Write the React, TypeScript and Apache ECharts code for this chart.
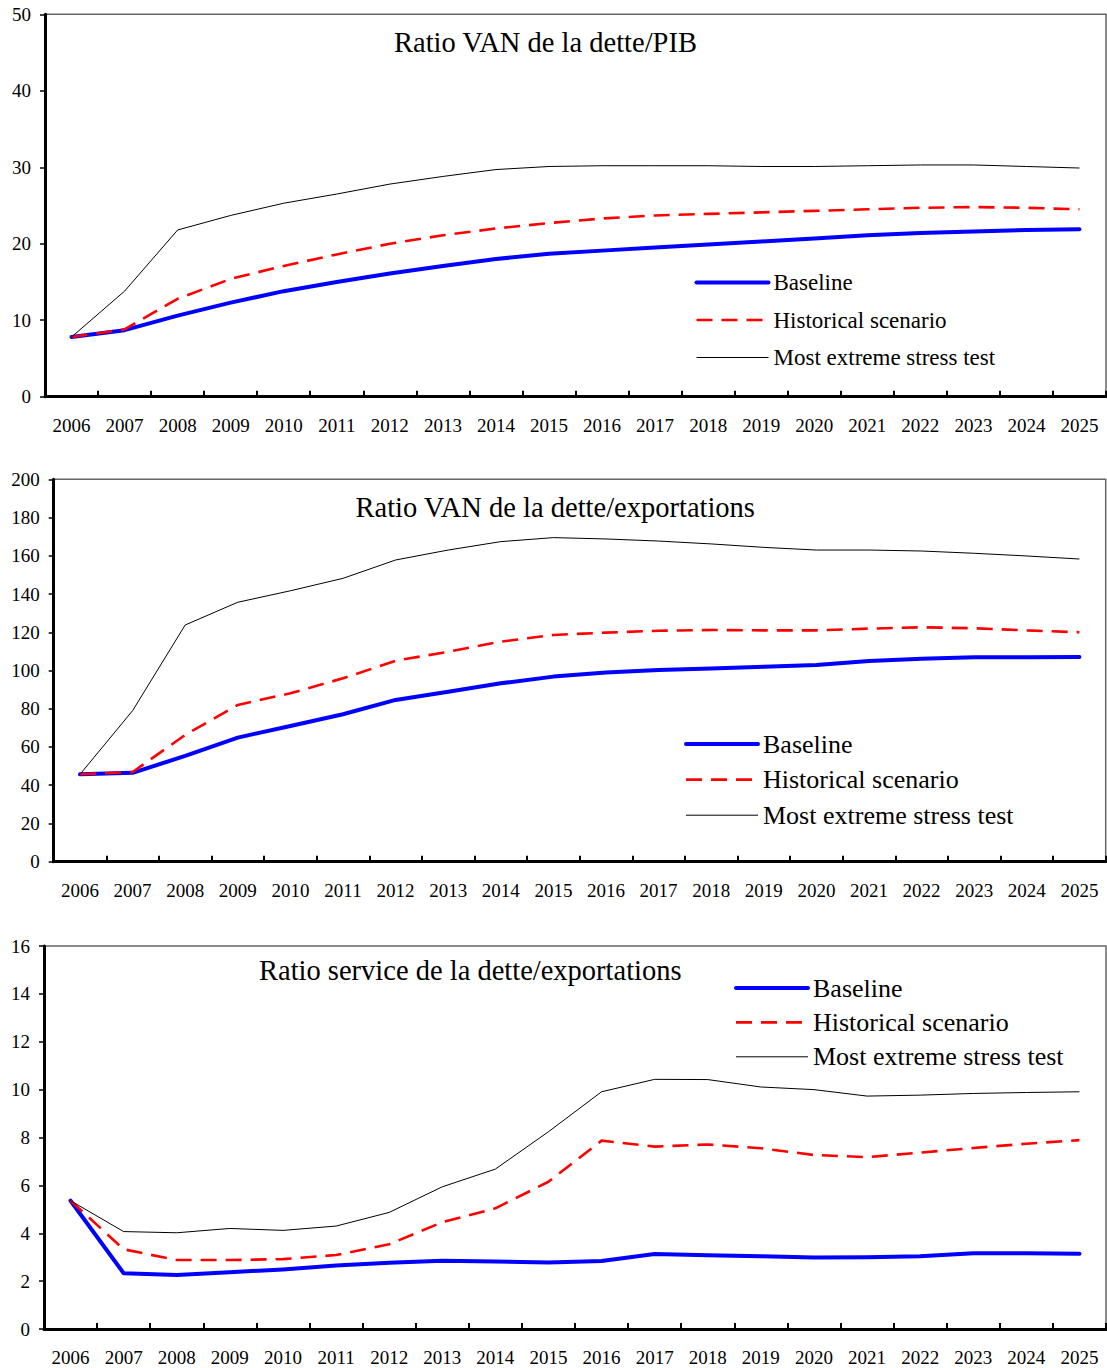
import React, { useEffect, useRef } from "react";
import * as echarts from "echarts";

const years = ["2006","2007","2008","2009","2010","2011","2012","2013","2014","2015","2016","2017","2018","2019","2020","2021","2022","2023","2024","2025"];

const seriesNames = ["Baseline", "Historical scenario", "Most extreme stress test"];

const titles = [
  "Ratio VAN de la dette/PIB",
  "Ratio VAN de la dette/exportations",
  "Ratio service de la dette/exportations",
];

const pibBaseline = [7.8, 8.7, 10.6, 12.3, 13.8, 15.0, 16.1, 17.1, 18.0, 18.7, 19.1, 19.5, 19.9, 20.3, 20.7, 21.1, 21.4, 21.6, 21.8, 21.9];
const pibHistorical = [7.8, 8.8, 12.8, 15.4, 17.1, 18.6, 20.0, 21.1, 22.0, 22.7, 23.3, 23.7, 23.9, 24.1, 24.3, 24.5, 24.7, 24.8, 24.7, 24.5];
const pibExtreme = [7.8, 13.8, 21.8, 23.7, 25.3, 26.5, 27.8, 28.8, 29.7, 30.1, 30.2, 30.2, 30.2, 30.1, 30.1, 30.2, 30.3, 30.3, 30.1, 29.9];

const expBaseline = [45.7, 46.5, 55.3, 64.9, 71.0, 77.1, 84.6, 88.9, 93.3, 96.8, 98.9, 100.3, 101.1, 102.0, 102.9, 105.0, 106.2, 106.9, 106.9, 107.1];
const expHistorical = [45.7, 46.9, 66.3, 82.0, 88.1, 95.9, 105.1, 109.8, 115.1, 118.6, 119.8, 120.8, 121.2, 121.0, 121.0, 121.9, 122.6, 122.1, 121.0, 120.0];
const expExtreme = [45.7, 79.0, 123.8, 135.7, 141.7, 148.2, 157.8, 163.0, 167.4, 169.5, 168.8, 167.7, 166.2, 164.4, 163.0, 163.0, 162.5, 161.3, 159.9, 158.3];

const svcBaseline = [5.36, 2.33, 2.26, 2.37, 2.49, 2.65, 2.77, 2.85, 2.82, 2.78, 2.84, 3.13, 3.08, 3.04, 2.99, 3.0, 3.04, 3.16, 3.16, 3.14];
const svcHistorical = [5.36, 3.33, 2.88, 2.88, 2.92, 3.09, 3.54, 4.46, 5.04, 6.15, 7.87, 7.62, 7.71, 7.55, 7.27, 7.18, 7.37, 7.56, 7.74, 7.89];
const svcExtreme = [5.36, 4.07, 4.02, 4.2, 4.12, 4.3, 4.87, 5.94, 6.68, 8.24, 9.91, 10.43, 10.42, 10.11, 10.0, 9.73, 9.77, 9.84, 9.88, 9.91];

const yMax = [50, 200, 16];
const yInterval = [10, 20, 2];

const FONT = "'Liberation Serif', 'Times New Roman', serif";

export default function App() {
  const ref = useRef<HTMLDivElement>(null);

  useEffect(() => {
    if (!ref.current) return;
    const chart = echarts.init(ref.current, null, { renderer: "svg" });

    const grids = [
      { left: 45, top: 14.3, width: 1061, height: 382.4 },
      { left: 53.7, top: 479.3, width: 1052, height: 382.4 },
      { left: 44, top: 946, width: 1062, height: 383 },
    ];
    const titlePos = [
      { left: 394, top: 28.3 },
      { left: 355.5, top: 493.3 },
      { left: 259, top: 956.3 },
    ];
    const legendPos = [
      { left: 694.5, top: 270.5, fontSize: 23, lineHeight: 24, gap: 13.5 },
      { left: 684, top: 731, fontSize: 26, lineHeight: 26, gap: 9.6 },
      { left: 734, top: 975, fontSize: 26, lineHeight: 26, gap: 8.4 },
    ];
    const data = [
      [pibBaseline, pibHistorical, pibExtreme],
      [expBaseline, expHistorical, expExtreme],
      [svcBaseline, svcHistorical, svcExtreme],
    ];

    const series: any[] = [];
    data.forEach((set, i) => {
      series.push({
        name: seriesNames[0], type: "line", xAxisIndex: i, yAxisIndex: i,
        data: set[0], symbol: "none", silent: true,
        lineStyle: { color: "#0000ff", width: 4, cap: "round", join: "round" },
        itemStyle: { color: "#0000ff" },
      });
      series.push({
        name: seriesNames[1], type: "line", xAxisIndex: i, yAxisIndex: i,
        data: set[1], symbol: "none", silent: true,
        lineStyle: { color: "#ff0000", width: 2.6, type: [16, 9] },
        itemStyle: { color: "#ff0000" },
      });
      series.push({
        name: seriesNames[2], type: "line", xAxisIndex: i, yAxisIndex: i,
        data: set[2], symbol: "none", silent: true,
        lineStyle: { color: "#000000", width: 1 },
        itemStyle: { color: "#000000" },
      });
    });

    chart.setOption({
      animation: false,
      backgroundColor: "#ffffff",
      title: titles.map((t, i) => ({
        text: t, left: titlePos[i].left, top: titlePos[i].top, padding: 0,
        textStyle: { fontFamily: FONT, fontSize: 28.5, fontWeight: "normal", color: "#000", lineHeight: 28.5 },
      })),
      legend: legendPos.map((p) => ({
        data: seriesNames, orient: "vertical", left: p.left, top: p.top, padding: 0,
        itemWidth: 72, itemHeight: 14, itemGap: p.gap, selectedMode: false,
        itemStyle: { color: "rgba(0,0,0,0)", borderWidth: 0, opacity: 0 },
        lineStyle: { width: "inherit", type: "inherit", color: "inherit", cap: "inherit" },
        textStyle: { fontFamily: FONT, fontSize: p.fontSize, color: "#000", lineHeight: p.lineHeight },
      })),
      grid: grids.map((g) => ({
        ...g, show: true, borderColor: "#666666", borderWidth: 1.5, backgroundColor: "transparent", containLabel: false,
      })),
      xAxis: grids.map((_, i) => ({
        type: "category", gridIndex: i, data: years, boundaryGap: true,
        axisLine: { show: true, lineStyle: { color: "#000", width: 3 } },
        axisTick: { show: true, inside: true, length: 6, lineStyle: { color: "#000", width: 2 } },
        axisLabel: { fontFamily: FONT, fontSize: 19, color: "#000", margin: 19, interval: 0 },
        splitLine: { show: false },
      })),
      yAxis: grids.map((_, i) => ({
        type: "value", gridIndex: i, min: 0, max: yMax[i], interval: yInterval[i],
        axisLine: { show: true, lineStyle: { color: "#000", width: 3 } },
        axisTick: { show: true, inside: false, length: 5, lineStyle: { color: "#000", width: 1.5 } },
        axisLabel: { fontFamily: FONT, fontSize: 19, color: "#000", margin: 14 },
        splitLine: { show: false },
      })),
      series,
    });

    return () => chart.dispose();
  }, []);

  return (
    <div
      ref={ref}
      style={{ position: "absolute", left: 0, top: 0, width: 1107, height: 1368, background: "#fff" }}
    />
  );
}
